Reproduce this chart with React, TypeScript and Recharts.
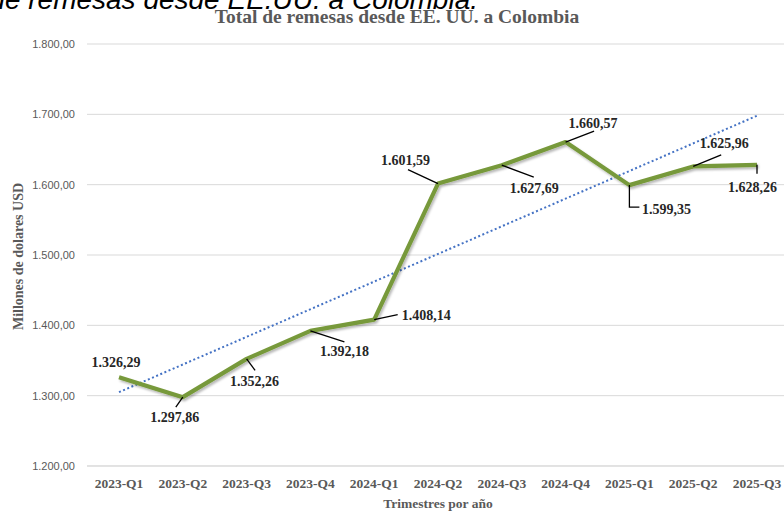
import { LineChart, Line, XAxis, YAxis, CartesianGrid, LabelList } from "recharts";

const quarters = [
  "2023-Q1", "2023-Q2", "2023-Q3", "2023-Q4",
  "2024-Q1", "2024-Q2", "2024-Q3", "2024-Q4",
  "2025-Q1", "2025-Q2", "2025-Q3",
];

const remesas = [
  1326.29, 1297.86, 1352.26, 1392.18, 1408.14, 1601.59,
  1627.69, 1660.57, 1599.35, 1625.96, 1628.26,
];

// linear trendline, start and end values
const trendStart = 1305;
const trendEnd = 1698;

const yTicks = [1200, 1300, 1400, 1500, 1600, 1700, 1800];

const data = quarters.map((q, i) => ({
  quarter: q,
  value: remesas[i],
  trend: i === 0 ? trendStart : i === quarters.length - 1 ? trendEnd : null,
}));

const fmt = (v: number) => {
  const [int, dec] = v.toFixed(2).split(".");
  return int.replace(/\B(?=(\d{3})+(?!\d))/g, ".") + "," + dec;
};

// label centre + leader line, relative to each point (px)
const labelOffsets: { dx: number; dy: number; lead: number[][] | null }[] = [
  { dx: -3, dy: -15, lead: null },
  { dx: -8, dy: 20, lead: [[-7, 10]] },
  { dx: 8, dy: 23, lead: [[8.5, 11.5]] },
  { dx: 34, dy: 21, lead: [[34, 11]] },
  { dx: 52, dy: -4, lead: [[23.5, -5]] },
  { dx: -32.5, dy: -23, lead: [[-30, -14]] },
  { dx: 32.5, dy: 23, lead: [[32, 12]] },
  { dx: 27.5, dy: -19, lead: [[28.5, -11]] },
  { dx: 37, dy: 24, lead: [[0, 22], [10, 22]] },
  { dx: 31, dy: -23, lead: [[28, -11.5]] },
  { dx: -4.5, dy: 22.5, lead: [[0, 9]] },
];

const serif = '"Liberation Serif", "Times New Roman", serif';

const renderLabel = (props: any) => {
  const x = props.x ?? props.viewBox?.x;
  const y = props.y ?? props.viewBox?.y;
  const { index, value } = props;
  const o = labelOffsets[index];
  if (x == null || y == null || !o) return null;
  const pts = o.lead ? [[0, 0], ...o.lead].map(([a, b]) => `${x + a},${y + b}`).join(" ") : null;
  return (
    <g key={`lbl-${index}`}>
      {pts && <polyline points={pts} fill="none" stroke="#000" strokeWidth={1.3} />}
      <text
        x={x + o.dx}
        y={y + o.dy}
        textAnchor="middle"
        dominantBaseline="central"
        fontFamily={serif}
        fontWeight="bold"
        fontSize={14}
        fill="#262626"
      >
        {fmt(Number(value))}
      </text>
    </g>
  );
};

export default function App() {
  return (
    <div style={{ position: "fixed", left: 0, top: 0, width: 784, height: 514, overflow: "hidden", background: "#fff" }}>
      <div style={{ position: "absolute", left: 0, top: 0 }}>
        <LineChart width={800} height={514} data={data} margin={{ top: 44, right: 11, bottom: 0, left: 7 }}>
          <defs>
            <filter id="lineShadow" x="-10%" y="-10%" width="120%" height="130%">
              <feDropShadow dx="1.5" dy="2" stdDeviation="1.2" floodColor="#000" floodOpacity="0.28" />
            </filter>
          </defs>
          <CartesianGrid vertical={false} stroke="#d9d9d9" />
          <XAxis
            dataKey="quarter"
            height={48}
            padding={{ left: 32, right: 32 }}
            axisLine={{ stroke: "#d9d9d9" }}
            tickLine={false}
            tickMargin={6}
            interval={0}
            tick={{ fontSize: 13.5, fontWeight: "bold", fontFamily: serif, fill: "#595959" }}
          />
          <YAxis
            width={80}
            domain={[1200, 1800]}
            ticks={yTicks}
            axisLine={false}
            tickLine={false}
            tickMargin={6}
            tickFormatter={fmt}
            tick={{ fontSize: 11, fontFamily: '"Liberation Sans", Arial, sans-serif', fill: "#595959" }}
          />
          <Line
            dataKey="trend"
            connectNulls
            stroke="#4472c4"
            strokeWidth={2}
            strokeDasharray="2 2.5"
            dot={false}
            activeDot={false}
            isAnimationActive={false}
          />
          <Line
            dataKey="value"
            stroke="#77993a"
            strokeWidth={4.2}
            strokeLinejoin="round"
            dot={false}
            activeDot={false}
            style={{ filter: "url(#lineShadow)" }}
            isAnimationActive={false}
          >
            <LabelList dataKey="value" content={renderLabel} />
          </Line>
        </LineChart>
      </div>
      <svg width={784} height={514} style={{ position: "absolute", left: 0, top: 0, pointerEvents: "none" }}>
        <text x={478} y={8.5} textAnchor="end" fontFamily='"Liberation Sans", Arial, sans-serif' fontStyle="italic" fontSize={28} fill="#000">
          de remesas desde EE.UU. a Colombia.
        </text>
        <text x={397} y={23.3} textAnchor="middle" fontFamily={serif} fontWeight="bold" fontSize={19.5} fill="#595959">
          Total de remesas desde EE. UU. a Colombia
        </text>
        <text
          x={18}
          y={256.5}
          transform="rotate(-90 18 256.5)"
          textAnchor="middle"
          dominantBaseline="central"
          fontFamily={serif}
          fontWeight="bold"
          fontSize={14}
          fill="#595959"
        >
          Millones de dolares USD
        </text>
        <text x={438} y={503} textAnchor="middle" dominantBaseline="central" fontFamily={serif} fontWeight="bold" fontSize={13.5} fill="#595959">
          Trimestres por año
        </text>
      </svg>
    </div>
  );
}
